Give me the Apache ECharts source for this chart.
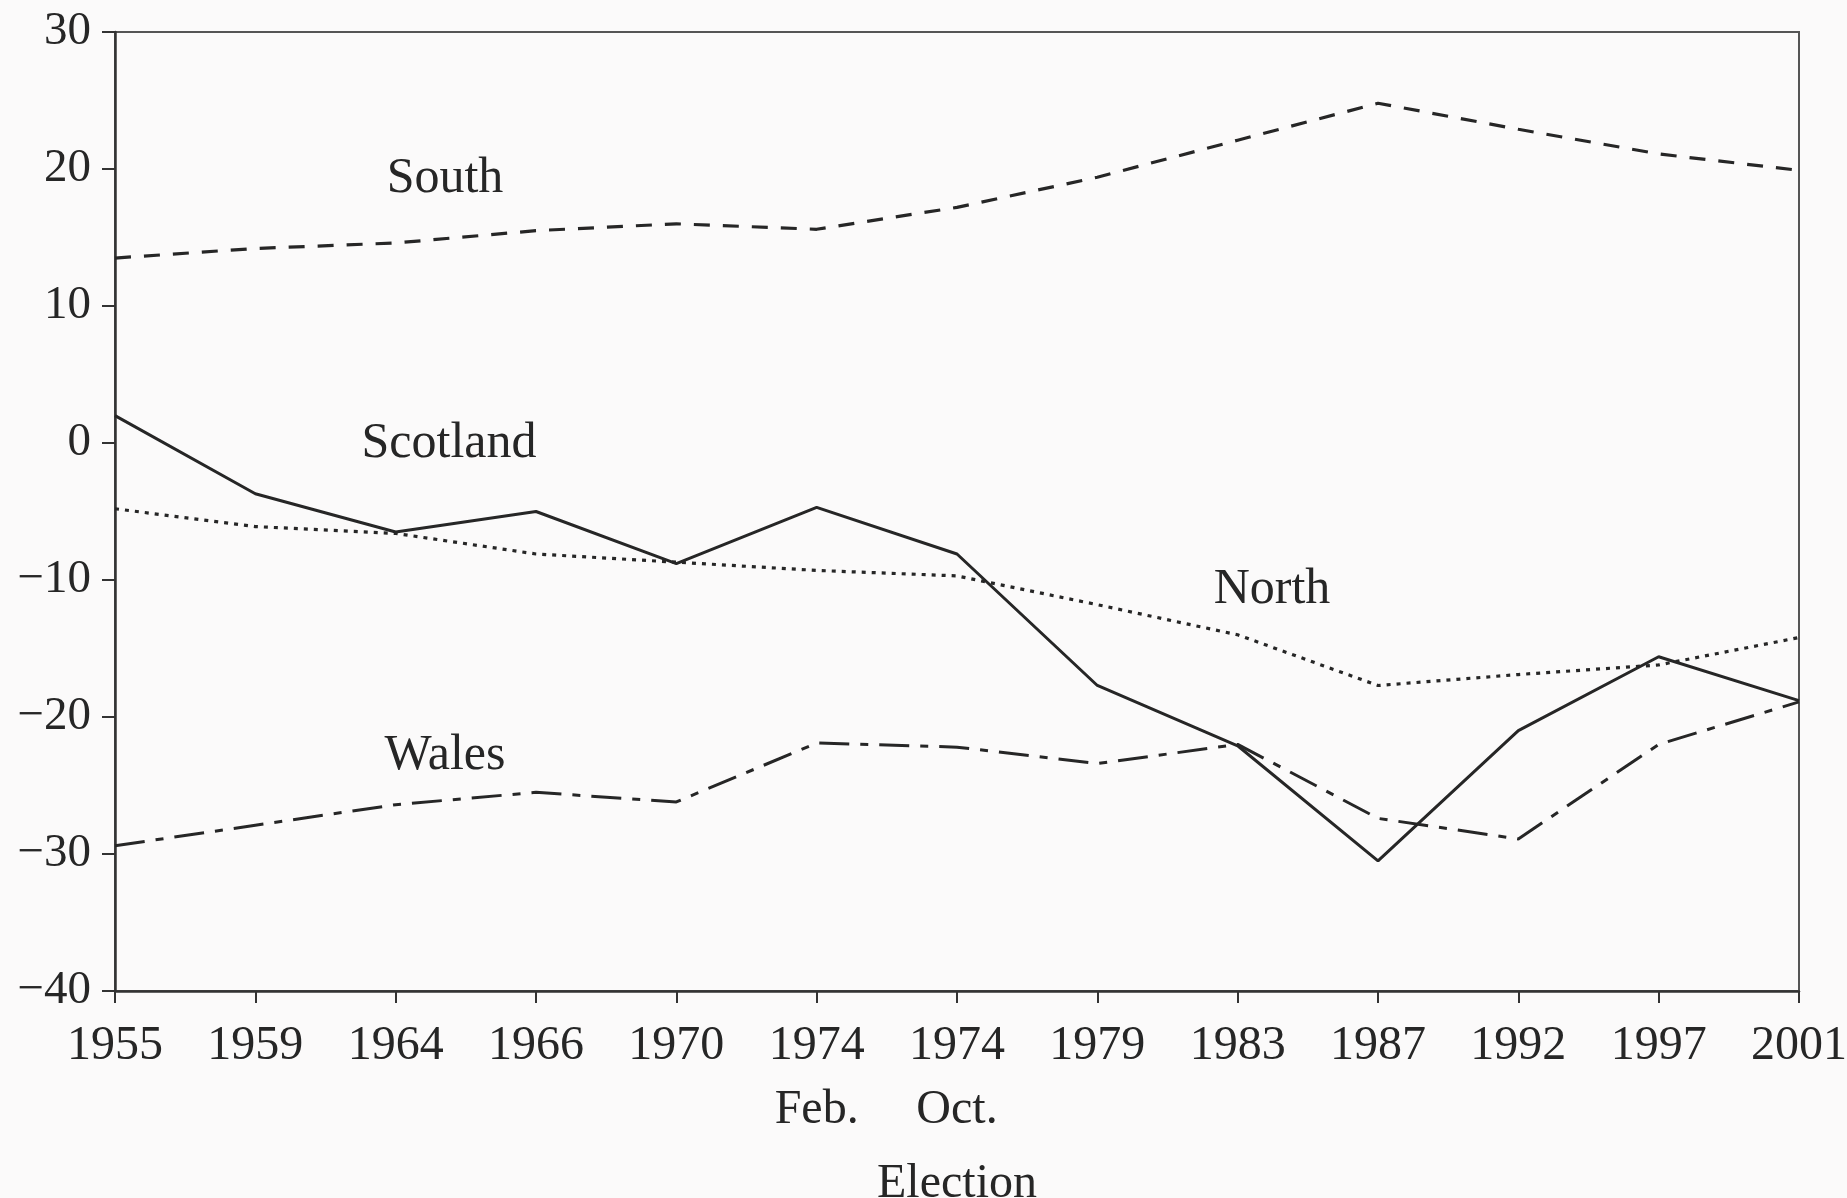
<!DOCTYPE html>
<html>
<head>
<meta charset="utf-8">
<title>Conservative vote by region</title>
<script src="https://cdn.jsdelivr.net/npm/echarts@6/dist/echarts.min.js"></script>
<style>
  html, body { margin: 0; padding: 0; background: #fbfafa; }
  #chart { width: 1847px; height: 1198px; }
</style>
</head>
<body>
<div id="chart"></div>
<script>
// elections (two in 1974)
const elections = ["1955", "1959", "1964", "1966", "1970", "1974", "1974", "1979", "1983", "1987", "1992", "1997", "2001"];
const months = ["", "", "", "", "", "Feb.", "Oct.", "", "", "", "", "", ""];

// values
const south = [13.5, 14.2, 14.6, 15.5, 16.0, 15.6, 17.2, 19.4, 22.1, 24.8, 22.9, 21.1, 19.9];
const scotland = [2.0, -3.7, -6.5, -5.0, -8.8, -4.7, -8.1, -17.7, -22.1, -30.5, -21.0, -15.6, -18.8];
const north = [-4.8, -6.1, -6.6, -8.1, -8.7, -9.3, -9.7, -11.8, -14.0, -17.7, -16.9, -16.2, -14.2];
const wales = [-29.4, -27.9, -26.4, -25.5, -26.2, -21.9, -22.2, -23.4, -22.0, -27.4, -28.9, -22.0, -18.9];

const font = '"Liberation Serif", "DejaVu Serif", serif';
const ink = "#262626";

const chart = echarts.init(document.getElementById("chart"));

function lineSeries(name, data, type, width) {
  return {
    name: name,
    type: "line",
    data: data,
    symbol: "none",
    silent: true,
    lineStyle: { color: ink, width: width, type: type }
  };
}

function regionLabel(text, x, y) {
  return {
    type: "text",
    x: x,
    y: y,
    style: { text: text, font: "50px " + font, fill: ink, align: "center", verticalAlign: "middle" }
  };
}

const option = {
  backgroundColor: "#fbfafa",
  animation: false,
  grid: {
    left: 115,
    right: 48,
    top: 32,
    bottom: 207,
    outerBoundsMode: "none",
    show: true,
    borderColor: "#555",
    borderWidth: 2
  },
  xAxis: {
    type: "category",
    data: elections,
    boundaryGap: false,
    name: "Election",
    nameLocation: "middle",
    nameGap: 169,
    nameTextStyle: { fontFamily: font, fontSize: 48, color: ink },
    axisLine: { onZero: false, lineStyle: { color: "#333", width: 2.5 } },
    axisTick: { show: true, length: 12, lineStyle: { color: "#333", width: 2 } },
    axisLabel: {
      interval: 0,
      margin: 23,
      fontFamily: font,
      fontSize: 48,
      lineHeight: 64,
      color: ink,
      formatter: function (value, index) {
        return months[index] ? value + "\n" + months[index] : value;
      }
    },
    splitLine: { show: false }
  },
  yAxis: {
    type: "value",
    min: -40,
    max: 30,
    interval: 10,
    axisLine: { show: true, lineStyle: { color: "#333", width: 2.5 } },
    axisTick: { show: true, length: 13, lineStyle: { color: "#333", width: 2 } },
    axisLabel: {
      margin: 24,
      fontFamily: font,
      fontSize: 47,
      color: ink,
      formatter: function (v) { return String(v).replace("-", "\u2212"); }
    },
    splitLine: { show: false }
  },
  series: [
    lineSeries("South", south, [16, 13], 3.2),
    lineSeries("Scotland", scotland, "solid", 3),
    lineSeries("North", north, [4, 6], 3.2),
    lineSeries("Wales", wales, [30, 11, 8, 11], 3)
  ],
  graphic: [
    regionLabel("South", 445, 179),
    regionLabel("Scotland", 449, 444),
    regionLabel("North", 1272, 590),
    regionLabel("Wales", 445, 756)
  ]
};

chart.setOption(option);
</script>
</body>
</html>
